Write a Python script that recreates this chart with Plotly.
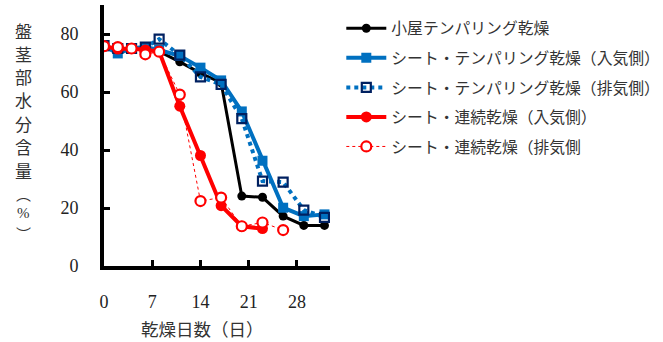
import plotly.graph_objects as go

# 乾燥日数（日）
days = [0, 2, 4, 6, 8, 11, 14, 17, 20, 23, 26, 29, 32]

# 盤茎部水分含量（%）
hut_tempering = [75.8, 75.0, 75.0, 75.3, 74.0, 70.4, 66.5, 63.2, 24.1, 23.7, 17.2, 14.0, 14.0]
sheet_tempering_in = [75.8, 73.3, 75.0, 75.5, 74.5, 72.5, 68.4, 64.0, 53.3, 36.3, 20.1, 17.2, 17.8]
sheet_tempering_out = [76.0, 75.0, 75.0, 75.5, 78.2, 72.7, 65.2, 62.6, 50.8, 29.3, 28.9, 19.3, 16.8]
sheet_continuous_in = [75.8, 74.8, 75.0, 74.5, 74.0, 55.1, 38.1, 20.8, 13.7, 12.9]
sheet_continuous_out = [75.8, 75.5, 75.0, 73.0, 73.9, 59.1, 22.4, 23.6, 13.7, 15.0, 12.4]

names = [
    "小屋テンパリング乾燥",
    "シート・テンパリング乾燥（入気側）",
    "シート・テンパリング乾燥（排気側）",
    "シート・連続乾燥（入気側）",
    "シート・連続乾燥（排気側",
]

y_ticks = [0, 20, 40, 60, 80]
x_ticks = [0, 7, 14, 21, 28]

FONT = "Liberation Serif, Noto Sans CJK JP, serif"
JP = "Noto Sans CJK JP, sans-serif"

fig = go.Figure()

fig.add_trace(go.Scatter(
    x=days, y=hut_tempering, name=names[0], legendgroup="a",
    mode="lines+markers",
    line=dict(color="#000000", width=3),
    marker=dict(symbol="circle", size=9, color="#000000"),
))
fig.add_trace(go.Scatter(
    x=days, y=sheet_tempering_in, name=names[1], legendgroup="b",
    mode="lines+markers",
    line=dict(color="#0070C0", width=4),
    marker=dict(symbol="square", size=10, color="#0070C0"),
))
fig.add_trace(go.Scatter(
    x=days, y=sheet_tempering_out, name=names[2], legendgroup="c",
    mode="lines+markers",
    line=dict(color="#0070C0", width=4, dash="dot"),
    marker=dict(symbol="square-open", size=9, color="#002060",
                line=dict(width=2.2, color="#002060")),
))
fig.add_trace(go.Scatter(
    x=days[:len(sheet_continuous_in)], y=sheet_continuous_in, name=names[3],
    legendgroup="d", mode="lines+markers",
    line=dict(color="#FF0000", width=4),
    marker=dict(symbol="circle", size=11, color="#FF0000"),
))
fig.add_trace(go.Scatter(
    x=days[:len(sheet_continuous_out)], y=sheet_continuous_out, name=names[4],
    legendgroup="e", mode="lines+markers",
    line=dict(color="#FF0000", width=1, dash="dot"),
    marker=dict(symbol="circle", size=10, color="#FFFFFF",
                line=dict(width=2.2, color="#FF0000")),
))

fig.update_layout(
    width=663, height=342,
    margin=dict(l=104, r=333, t=5, b=76, autoexpand=False),
    paper_bgcolor="white", plot_bgcolor="white",
    font=dict(family=FONT, size=17, color="#222222"),
    showlegend=True,
    legend=dict(
        x=1.05, y=0.975, xanchor="left", yanchor="top",
        font=dict(family=JP, size=15.8, color="#333333"),
        tracegroupgap=6, itemwidth=40,
        bgcolor="rgba(0,0,0,0)",
    ),
    xaxis=dict(
        range=[0, 32.8], tickvals=x_ticks, ticktext=[str(v) for v in x_ticks],
        showgrid=False, zeroline=False,
        showline=True, linecolor="#000000", linewidth=4,
        ticks="inside", ticklen=6, tickwidth=3, tickcolor="#000000",
        ticklabelstandoff=16,
        tickfont=dict(family=FONT, size=18, color="#222222"),
    ),
    yaxis=dict(
        range=[0, 90], tickvals=y_ticks, ticktext=[str(v) for v in y_ticks],
        showgrid=False, zeroline=False,
        showline=True, linecolor="#000000", linewidth=4,
        ticks="inside", ticklen=6, tickwidth=3, tickcolor="#000000",
        ticklabelstandoff=18,
        tickfont=dict(family=FONT, size=18, color="#222222"),
    ),
)

# x-axis title
fig.add_annotation(
    text="乾燥日数（日）", xref="paper", yref="paper",
    x=(202 - 104) / 226, y=-62 / 261, xanchor="center", yanchor="middle",
    showarrow=False, font=dict(family=JP, size=17.5, color="#333333"),
)

# vertical y-axis title, stacked one character at a time (pixel rows from top)
y_title_chars = ["盤", "茎", "部", "水", "分", "含", "量", "︵", "%", "︶"]
y_title_rows = [30, 53.3, 76.6, 100, 123.3, 146.6, 170, 193, 213, 233]
y_title_sizes = [17, 17, 17, 17, 17, 17, 17, 15, 15, 15]
y_title_fonts = [JP] * 7 + [JP, FONT, JP]
for ch, row, sz, fam in zip(y_title_chars, y_title_rows, y_title_sizes, y_title_fonts):
    fig.add_annotation(
        text=ch, xref="paper", yref="paper",
        x=-81 / 226, y=1 - (row - 5) / 261, xanchor="center", yanchor="middle",
        showarrow=False,
        font=dict(family=fam, size=sz, color="#333333"),
    )

fig.write_html("out.html")
